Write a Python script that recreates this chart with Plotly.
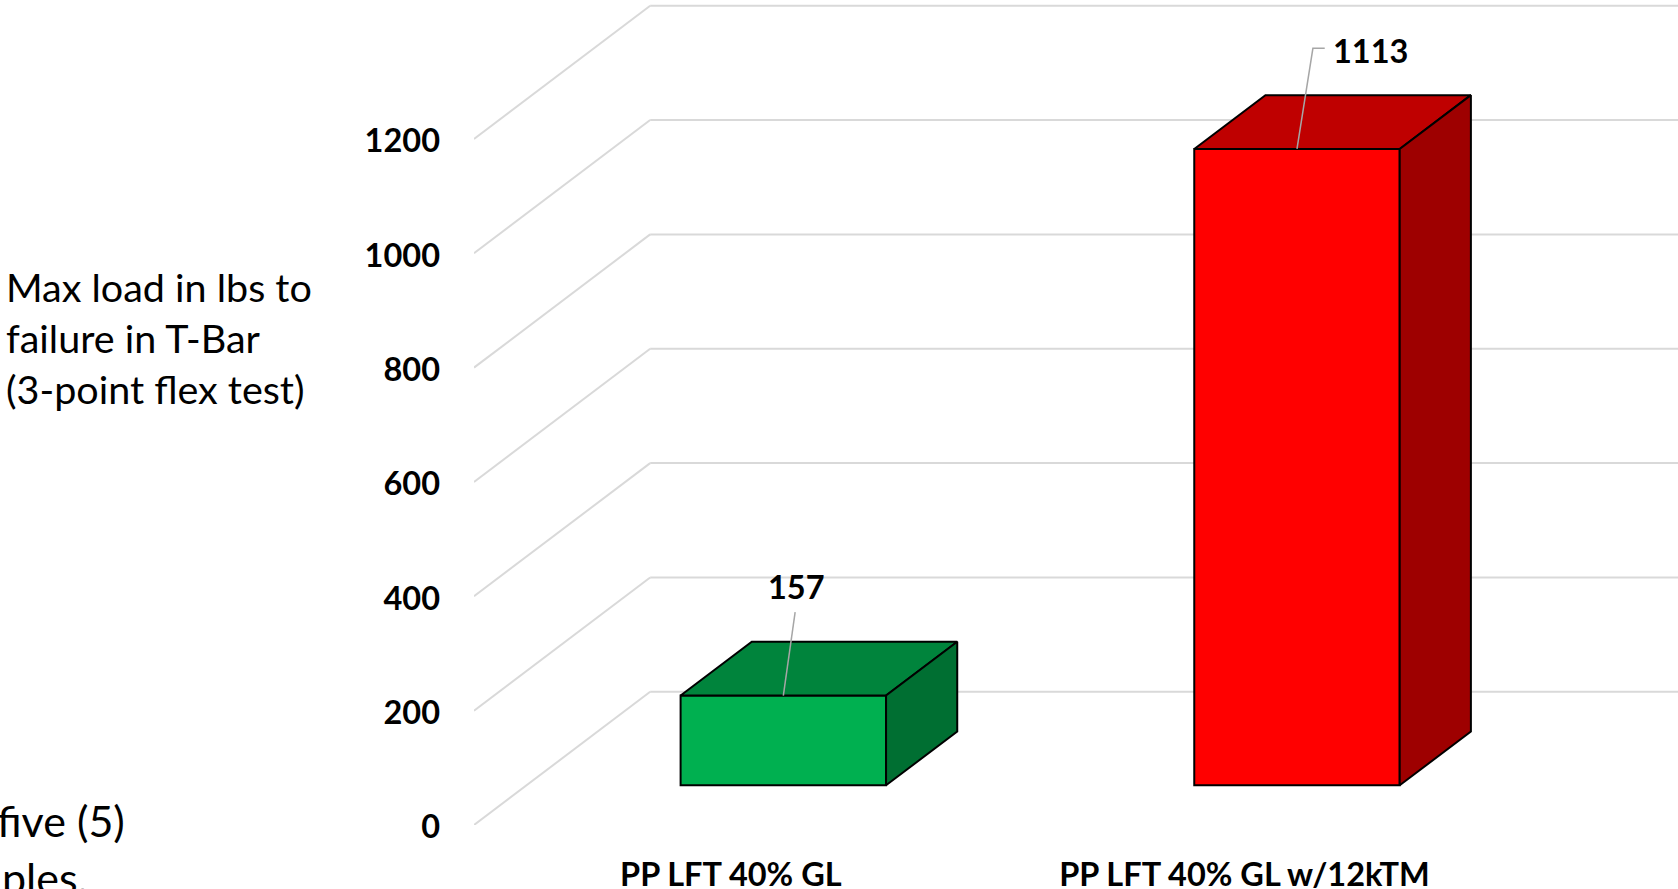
import plotly.graph_objects as go

# ---- data ----
categories = ["PP LFT 40% GL", "PP LFT 40% GL w/12kTM"]
values = [157, 1113]
y_ticks = [0, 200, 400, 600, 800, 1000, 1200]
front_colors = ["#00B050", "#FF0000"]
top_colors = ["#00843C", "#BF0000"]
side_colors = ["#006F32", "#9E0000"]
side_note = ["Max load in lbs to", "failure in T-Bar", "(3-point flex test)"]
cut_note = ["five (5)", "ples."]

# ---- oblique projection (data units) ----
W, H = 1678, 889
M_L, M_B = 474, 64
DX, DY = 0.343, 233          # full depth of the floor
Z0, Z1 = 0.298, 0.702        # bar front / back depth
BAR_W = 0.4
X_RANGE = [-0.5, 1.844]
Y_RANGE = [0, 1443]
FONT = "Lato, Carlito, Calibri, sans-serif"
BOLD = 32.5


def proj(x, y, z):
    return x + z * DX, y + z * DY


def paper_x(px):
    return (px - M_L) / (W - M_L)


def paper_y(py):
    return (H - M_B - py) / (H - M_B)


shapes = []
for v in y_ticks:
    x0, y0 = proj(X_RANGE[0], v, 0)
    x1, y1 = proj(X_RANGE[0], v, 1)
    for a, b, c, d in [(x0, y0, x1, y1), (x1, y1, X_RANGE[1], y1)]:
        shapes.append(dict(type="line", xref="x", yref="y", x0=a, y0=b, x1=c, y1=d,
                           layer="below", line=dict(color="#D9D9D9", width=2)))

fig = go.Figure()

# front faces
fig.add_trace(go.Bar(
    x=[i + Z0 * DX for i in range(len(values))], y=values, base=[Z0 * DY] * len(values),
    width=BAR_W, marker=dict(color=front_colors, line=dict(color="#000000", width=2)),
    hoverinfo="skip",
))


def poly(points, color):
    xs, ys = zip(*(points + points[:1]))
    fig.add_trace(go.Scatter(x=xs, y=ys, mode="lines", fill="toself", fillcolor=color,
                             line=dict(color="#000000", width=2), hoverinfo="skip"))


annotations = []
label_offsets = [(0.025, 191, "center"), (0.067, 172, "left")]
leaders = [[(0.023, 146)], [(0.031, 176), (0.054, 176)]]

for i, v in enumerate(values):
    l, r = i - BAR_W / 2, i + BAR_W / 2
    poly([proj(l, v, Z0), proj(r, v, Z0), proj(r, v, Z1), proj(l, v, Z1)], top_colors[i])
    poly([proj(r, 0, Z0), proj(r, v, Z0), proj(r, v, Z1), proj(r, 0, Z1)], side_colors[i])
    cx, cy = proj(i, v, Z0)
    lx = [cx] + [cx + a for a, _ in leaders[i]]
    ly = [cy] + [cy + b for _, b in leaders[i]]
    fig.add_trace(go.Scatter(x=lx, y=ly, mode="lines", line=dict(color="#A6A6A6", width=1.5),
                             hoverinfo="skip"))
    ox, oy, anchor = label_offsets[i]
    annotations.append(dict(x=cx + ox, y=cy + oy, xref="x", yref="y", text=f"<b>{v}</b>",
                            showarrow=False, xanchor=anchor, yanchor="middle",
                            font=dict(family=FONT, size=BOLD, color="#000000")))

for text, py in zip(side_note, [286, 337, 388]):
    annotations.append(dict(x=paper_x(4), y=paper_y(py), xref="paper", yref="paper", text=text,
                            showarrow=False, xanchor="left", yanchor="middle",
                            font=dict(family=FONT, size=39.5, color="#000000")))
for text, py in zip(cut_note, [820, 877]):
    annotations.append(dict(x=paper_x({"five (5)": 127, "ples.": 90}[text]), y=paper_y(py),
                            xref="paper", yref="paper", text=text,
                            showarrow=False, xanchor="right", yanchor="middle",
                            font=dict(family=FONT, size=43, color="#000000")))

fig.update_layout(
    width=W, height=H, showlegend=False, paper_bgcolor="#FFFFFF", plot_bgcolor="#FFFFFF",
    margin=dict(l=M_L, r=0, t=0, b=M_B, autoexpand=False),
    shapes=shapes, annotations=annotations,
    font=dict(family=FONT, color="#000000"),
    xaxis=dict(range=X_RANGE, tickmode="array", tickvals=list(range(len(categories))),
               ticktext=[f"<b>{c}</b>" for c in categories], showgrid=False, zeroline=False,
               showline=False, ticks="", ticklabelstandoff=27,
               tickfont=dict(family=FONT, size=BOLD, color="#000000")),
    yaxis=dict(range=Y_RANGE, tickmode="array", tickvals=y_ticks,
               ticktext=[f"<b>{t}</b>" for t in y_ticks], showgrid=False, zeroline=False,
               showline=False, ticks="", ticklabelstandoff=33, ticklabelshift=2,
               tickfont=dict(family=FONT, size=BOLD, color="#000000")),
)

fig.write_html("out.html", config={"displayModeBar": False},
               post_script="document.body.style.margin='0';document.body.style.overflow='hidden';")
